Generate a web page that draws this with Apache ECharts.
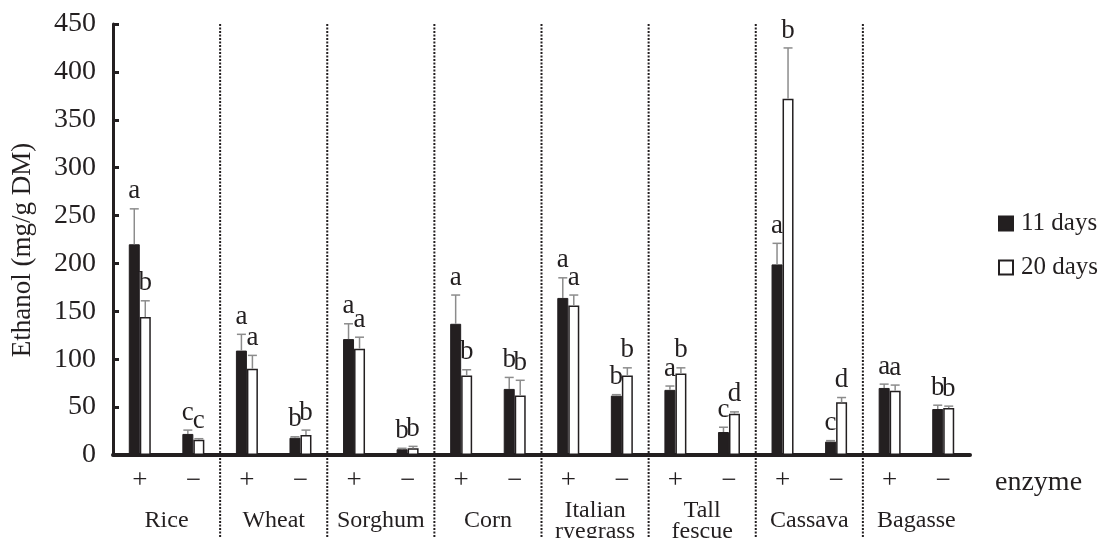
<!DOCTYPE html>
<html>
<head>
<meta charset="utf-8">
<script src="https://cdn.jsdelivr.net/npm/echarts@6/dist/echarts.min.js"></script>
<style>
  html, body { margin: 0; padding: 0; background: #fff; }
  #chart { width: 1105px; height: 538px; }
</style>
</head>
<body>
<div id="chart"></div>
<script>
// Substrates and enzyme treatment (+ with enzyme, − without)
const crops = ['Rice', 'Wheat', 'Sorghum', 'Corn', 'Italian\nryegrass', 'Tall\nfescue', 'Cassava', 'Bagasse'];
const enzymeMarks = ['+', '\u2212'];
const categories = crops.flatMap(() => enzymeMarks);

// Ethanol yield (mg/g DM), mean and SD, in category order
const day11 = [220, 22, 109, 18, 121, 6, 137, 69, 164, 62, 68, 24, 199, 14, 70, 48];
const err11 = [37, 4, 17, 1, 16, 1, 30, 12, 21, 1, 4, 5, 22, 1, 4, 4];
const day20 = [144, 16, 90, 21, 111, 7, 83, 62, 156, 83, 85, 43, 372, 55, 67, 49];
const err20 = [17, 1, 14, 5, 12, 2, 6, 16, 11, 8, 6, 2, 53, 5, 6, 2];

// Significance letters
const letters11 = ['a', 'c', 'a', 'b', 'a', 'b', 'a', 'b', 'a', 'b', 'a', 'c', 'a', 'c', 'a', 'b'];
const letters20 = ['b', 'c', 'a', 'b', 'a', 'b', 'b', 'b', 'a', 'b', 'b', 'd', 'b', 'd', 'a', 'b'];

const yTickValues = [0, 50, 100, 150, 200, 250, 300, 350, 400, 450];

const INK = '#231f20';
const FONT = '"Liberation Serif", "Times New Roman", serif';
const BAR_W = 11;

// Upper error whisker plus the letter above it
function errorSeries(id, values, errs, letters, dx) {
  return {
    type: 'custom',
    id: id,
    xAxisIndex: 0,
    yAxisIndex: 0,
    z: 5,
    silent: true,
    clip: false,
    data: values.map((v, i) => [i, v, v + errs[i]]),
    renderItem(params, api) {
      const i = api.value(0);
      const base = api.coord([i, api.value(1)]);
      const top = api.coord([i, api.value(2)]);
      const x = base[0] + dx;
      const cap = 4.5;
      const children = [];
      if (api.value(2) > api.value(1)) {
        children.push({ type: 'line', shape: { x1: x, y1: base[1], x2: x, y2: top[1] },
          style: { stroke: '#8c8c8c', lineWidth: 1.5 } });
        children.push({ type: 'line', shape: { x1: x - cap, y1: top[1], x2: x + cap, y2: top[1] },
          style: { stroke: '#8c8c8c', lineWidth: 1.5 } });
      }
      children.push({ type: 'text', x: x, y: top[1] - 4,
        style: { text: letters[params.dataIndex], fill: INK, fontSize: 27, fontFamily: FONT,
          align: 'center', verticalAlign: 'bottom' } });
      return { type: 'group', children };
    }
  };
}

const chart = echarts.init(document.getElementById('chart'), null, { renderer: 'canvas' });

chart.setOption({
  animation: false,
  backgroundColor: '#fff',
  grid: { left: 113, right: 135, top: 24, bottom: 83, outerBoundsMode: 'none' },
  legend: {
    data: ['11 days', '20 days'],
    orient: 'vertical',
    left: 993,
    top: 206,
    icon: 'rect',
    itemWidth: 14,
    itemHeight: 14,
    itemGap: 19,
    selectedMode: false,
    textStyle: { fontSize: 25, fontFamily: FONT, color: INK, padding: [0, 0, 0, 3] }
  },
  xAxis: [
    {
      type: 'category',
      data: categories,
      position: 'bottom',
      axisLine: { show: true, lineStyle: { color: INK, width: 4 } },
      axisTick: { show: false },
      splitLine: { show: false },
      axisLabel: { interval: 0, fontSize: 27, fontFamily: FONT, color: INK, margin: 26, verticalAlign: 'middle' }
    },
    {
      type: 'category',
      data: crops,
      position: 'bottom',
      axisLine: { show: false },
      axisTick: { show: false },
      splitLine: { show: false },
      axisLabel: { interval: 0, fontSize: 24, fontFamily: FONT, color: INK, margin: 66,
        lineHeight: 21, verticalAlign: 'middle' }
    }
  ],
  yAxis: {
    type: 'value',
    min: yTickValues[0],
    max: yTickValues[yTickValues.length - 1],
    interval: 50,
    axisLine: { show: true, lineStyle: { color: INK, width: 3 } },
    axisTick: { show: true, inside: true, length: 6, lineStyle: { color: INK, width: 3 } },
    splitLine: { show: false },
    axisLabel: { fontSize: 28, fontFamily: FONT, color: INK, margin: 17 }
  },
  graphic: [
    { type: 'text', x: 23, y: 250, rotation: Math.PI / 2,
      style: { text: 'Ethanol (mg/g DM)', fontSize: 27, fontFamily: FONT, fill: INK,
        align: 'center', verticalAlign: 'middle' } },
    { type: 'text', x: 995, y: 483,
      style: { text: 'enzyme', fontSize: 28, fontFamily: FONT, fill: INK,
        align: 'left', verticalAlign: 'middle' } }
  ],
  series: [
    {
      // dotted separators between substrates
      type: 'custom',
      id: 'separators',
      xAxisIndex: 0,
      yAxisIndex: 0,
      silent: true,
      clip: false,
      z: 1,
      data: crops.slice(1).map((_, k) => [2 * (k + 1)]),
      renderItem(params, api) {
        const c = api.value(0);
        const x = (api.coord([c - 1, 0])[0] + api.coord([c, 0])[0]) / 2;
        const yTop = api.coord([c, yTickValues[yTickValues.length - 1]])[1];
        return { type: 'line', shape: { x1: x, y1: yTop, x2: x, y2: api.getHeight() },
          style: { stroke: INK, lineWidth: 2, lineDash: [2, 1.5] } };
      }
    },
    {
      name: '11 days',
      type: 'bar',
      data: day11,
      barWidth: BAR_W,
      barGap: '0%',
      z: 3,
      itemStyle: { color: INK, borderColor: INK, borderWidth: 1 }
    },
    {
      name: '20 days',
      type: 'bar',
      data: day20,
      barWidth: BAR_W,
      barGap: '0%',
      z: 3,
      itemStyle: { color: '#ffffff', borderColor: INK, borderWidth: 1.5 }
    },
    errorSeries('err11', day11, err11, letters11, -BAR_W / 2),
    errorSeries('err20', day20, err20, letters20, BAR_W / 2)
  ]
});
</script>
</body>
</html>
